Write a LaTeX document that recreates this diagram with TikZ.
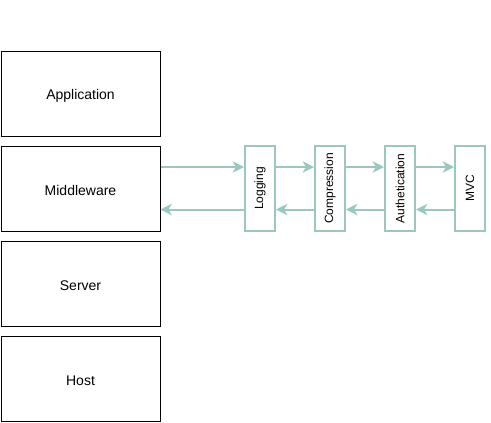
\documentclass[tikz,border=0pt]{standalone}
\usepackage{fontspec}
\setmainfont{Liberation Sans}
\usetikzlibrary{arrows.meta}
\definecolor{teal2}{HTML}{9AC7BF}
\tikzset{
  layer/.style={draw=black, line width=0.75pt, minimum width=159*0.75pt, minimum height=85*0.75pt, inner sep=0pt},
  layertext/.style={font=\fontsize{10.5pt}{12pt}\selectfont, yshift=-1.5pt},
  mw/.style={draw=teal2, line width=1.5pt, fill=white, minimum width=30*0.75pt, minimum height=85*0.75pt, inner sep=0pt},
  mwtext/.style={rotate=90, font=\fontsize{9pt}{11pt}\selectfont},
  flow/.style={draw=teal2, line width=1.5pt, -{Stealth[length=8.5pt,width=8.5pt,inset=2.5pt]}}
}
\begin{document}
\begin{tikzpicture}[x=0.75pt,y=-0.75pt]
\useasboundingbox (0,0) rectangle (491,422);
\node[layer] (app) at (80.5,93.5) {};
\node[layertext] at (app.center) {Application};
\node[layer] (mid) at (80.5,188.5) {};
\node[layertext] at (mid.center) {Middleware};
\node[layer] (srv) at (80.5,283.5) {};
\node[layertext] at (srv.center) {Server};
\node[layer] (host) at (80.5,378.5) {};
\node[layertext] at (host.center) {Host};
\node[mw] (log) at (260,188.5) {};
\node[mwtext] at (log.center) {Logging};
\node[mw] (comp) at (330,188.5) {};
\node[mwtext] at (comp.center) {Compression};
\node[mw] (auth) at (400,188.5) {};
\node[mwtext] at (auth.center) {Authetication};
\node[mw] (mvc) at (470,188.5) {};
\node[mwtext] at (mvc.center) {MVC};
% forward
\draw[flow] (mid.east |- 0,167) -- (log.west |- 0,167);
\draw[flow] (log.east |- 0,167) -- (comp.west |- 0,167);
\draw[flow] (comp.east |- 0,167) -- (auth.west |- 0,167);
\draw[flow] (auth.east |- 0,167) -- (mvc.west |- 0,167);
% backward
\draw[flow] (mvc.west |- 0,209.5) -- (auth.east |- 0,209.5);
\draw[flow] (auth.west |- 0,209.5) -- (comp.east |- 0,209.5);
\draw[flow] (comp.west |- 0,209.5) -- (log.east |- 0,209.5);
\draw[flow] (log.west |- 0,209.5) -- (mid.east |- 0,209.5);
\end{tikzpicture}
\end{document}
